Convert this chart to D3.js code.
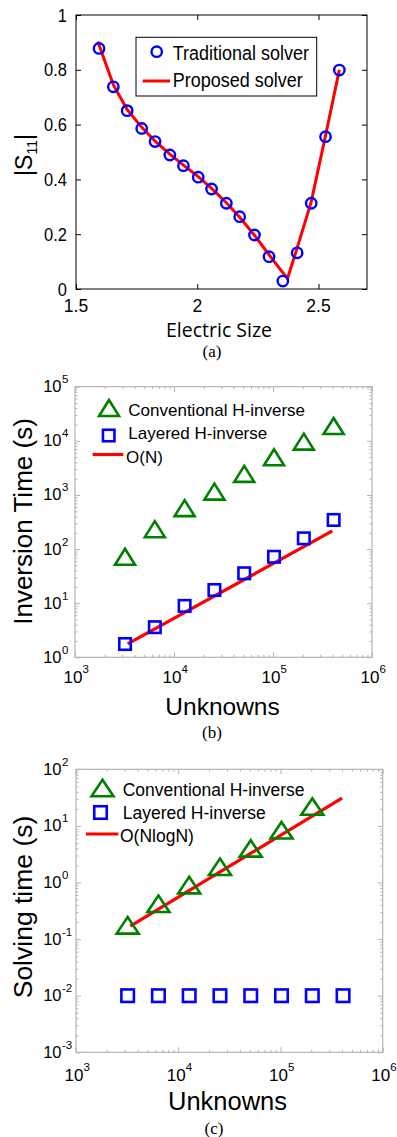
<!DOCTYPE html>
<html>
<head>
<meta charset="utf-8">
<script src="https://d3js.org/d3.v7.min.js"></script>
<style>
  body { margin: 0; background: #fff; }
  text { font-family: "Liberation Sans", Arial, sans-serif; fill: #000; }
  .serif { font-family: "Liberation Serif", "Times New Roman", serif; }
  .calib { font-family: "Open Sans", sans-serif; }
</style>
</head>
<body>
<div class="chart"></div>
<script>
// ---- panel (a): |S11| vs electric size
var sizeTrad = [1.595, 1.654, 1.711, 1.771, 1.826, 1.887, 1.943, 2.004, 2.059, 2.12, 2.175, 2.236, 2.296, 2.353, 2.412, 2.47, 2.529, 2.586];
var s11Trad  = [0.878, 0.738, 0.651, 0.586, 0.538, 0.489, 0.45, 0.408, 0.365, 0.313, 0.264, 0.197, 0.118, 0.029, 0.132, 0.313, 0.556, 0.799];
var sizeProp = [1.59, 1.654, 1.711, 1.771, 1.826, 1.887, 1.943, 2.004, 2.059, 2.12, 2.175, 2.236, 2.296, 2.372, 2.412, 2.47, 2.529, 2.586];
var s11Prop  = [0.903, 0.745, 0.655, 0.59, 0.54, 0.492, 0.452, 0.41, 0.367, 0.315, 0.262, 0.196, 0.125, 0.038, 0.15, 0.318, 0.56, 0.8];
var xTicksA = [1.5, 2, 2.5];
var xTickLabelsA = ["1.5", "2", "2.5"];
var yTicksA = [0, 0.2, 0.4, 0.6, 0.8, 1];
var yTickLabelsA = ["0", "0.2", "0.4", "0.6", "0.8", "1"];

// ---- panels (b) and (c): timing vs unknowns
var unknowns = [3200, 6400, 12800, 25600, 51200, 102400, 204800, 409600];
var invConv = [72, 233, 570, 1150, 2450, 4980, 9660, 18800];
var invLayered = [1.76, 3.6, 8.9, 17.5, 35.7, 72, 158, 345];
var invFitN = [3400, 398000];
var invFitT = [1.77, 216];

var solveN = [3200, 6400, 12800, 25600, 51200, 102400, 204800];
var solveConv = [0.175, 0.42, 0.9, 1.9, 4.0, 8.4, 22];
var solveLayered = [0.01, 0.01, 0.01, 0.01, 0.01, 0.01, 0.01, 0.01];
var solveFitN = [3400, 400000];
var solveFitT = [0.17, 31];

var green = "#008000", blue = "#0000ff", red = "#ff0000";

var svg = d3.select(".chart").append("svg")
  .attr("width", 397)
  .attr("height", 1137);
svg.append("rect").attr("width", 397).attr("height", 1137).attr("fill", "#fff");

// text helper, sy stretches vertically (panel a text is drawn tall)
function txt(g, x, y, s, size, anchor, sy) {
  return g.append("text")
    .attr("transform", "translate(" + x + "," + y + ") scale(1," + (sy || 1) + ")")
    .attr("text-anchor", anchor || "start")
    .style("font-size", size + "px")
    .text(s);
}

function triPath(w, h) {
  return "M0," + (-h / 2) + "L" + (w / 2) + "," + (h / 2) + "L" + (-w / 2) + "," + (h / 2) + "Z";
}

// ================= (a) =================
var xa = d3.scaleLinear().domain([1.5, 2.7]).range([76, 367]);
var ya = d3.scaleLinear().domain([0, 1]).range([289, 15]);
var ga = svg.append("g");

function boxAxes(g, x, y, xt, yt, size, color) {
  var x0 = x.range()[0], x1 = x.range()[1], y0 = y.range()[0], y1 = y.range()[1];
  var axes = [
    [d3.axisBottom(x).tickValues(xt), "translate(0," + y0 + ")"],
    [d3.axisTop(x).tickValues(xt), "translate(0," + y1 + ")"],
    [d3.axisLeft(y).tickValues(yt), "translate(" + x0 + ",0)"],
    [d3.axisRight(y).tickValues(yt), "translate(" + x1 + ",0)"]
  ];
  axes.forEach(function(a) {
    g.append("g").attr("transform", a[1])
      .call(a[0].tickSize(-size).tickFormat(""))
      .call(function(s) { s.select(".domain").remove(); })
      .selectAll("line").attr("stroke", color);
  });
}

boxAxes(ga, xa, ya, xTicksA, yTicksA, 5, "#000");
ga.append("rect").attr("x", 76).attr("y", 15).attr("width", 291).attr("height", 274)
  .attr("fill", "none").attr("stroke", "#000").attr("stroke-width", 1);

xTicksA.forEach(function(v, i) { txt(ga, xa(v), 312, xTickLabelsA[i], 17.5, "middle", 1.1); });
yTicksA.forEach(function(v, i) { txt(ga, 67, ya(v) + 6.5, yTickLabelsA[i], 16.5, "end", 1.12); });

ga.append("path")
  .datum(d3.range(sizeProp.length))
  .attr("fill", "none").attr("stroke", red).attr("stroke-width", 3)
  .attr("d", d3.line().x(function(i) { return xa(sizeProp[i]); }).y(function(i) { return ya(s11Prop[i]); }));

ga.selectAll("circle.trad").data(d3.range(sizeTrad.length)).enter().append("circle")
  .attr("class", "trad")
  .attr("cx", function(i) { return xa(sizeTrad[i]); })
  .attr("cy", function(i) { return ya(s11Trad[i]); })
  .attr("r", 5.2).attr("fill", "none").attr("stroke", blue).attr("stroke-width", 2.4);

// legend (a)
ga.append("rect").attr("x", 136).attr("y", 37.3).attr("width", 180.7).attr("height", 58.7)
  .attr("fill", "#fff").attr("stroke", "#000").attr("stroke-width", 1);
ga.append("circle").attr("cx", 156.7).attr("cy", 51.7).attr("r", 5.2)
  .attr("fill", "none").attr("stroke", blue).attr("stroke-width", 2.4);
txt(ga, 172.7, 60, "Traditional solver", 18, "start", 1.12);
ga.append("line").attr("x1", 142.7).attr("x2", 170).attr("y1", 81).attr("y2", 81)
  .attr("stroke", red).attr("stroke-width", 3);
txt(ga, 172.7, 87.3, "Proposed solver", 18, "start", 1.12);

// axis labels (a)
txt(ga, 219, 336.7, "Electric Size", 19.5, "middle").attr("class", "calib");
var yl = ga.append("text")
  .attr("transform", "translate(32,155) rotate(-90)")
  .attr("text-anchor", "middle")
  .style("font-size", "23px");
yl.append("tspan").text("|S");
yl.append("tspan").attr("dy", 5).style("font-size", "14px").text("11");
yl.append("tspan").attr("dy", -5).text("|");
txt(ga, 212, 357, "(a)", 17, "middle").attr("class", "serif");

// ================= log panels =================
function logPanel(opt) {
  var g = svg.append("g");
  var x = opt.x, y = opt.y;
  var x0 = x.range()[0], x1 = x.range()[1], y0 = y.range()[0], y1 = y.range()[1];
  var xDec = d3.range(3, 7).map(function(p) { return Math.pow(10, p); });
  var yDec = d3.range(opt.yp[0], opt.yp[1] + 1).map(function(p) { return Math.pow(10, p); });
  var minor = function(dec) {
    var out = [];
    dec.slice(0, -1).forEach(function(d) { for (var k = 2; k < 10; k++) out.push(d * k); });
    return out;
  };
  var gray = "#b4b4b4";
  boxAxes(g, x, y, minor(xDec), minor(yDec), 2.5, gray);
  boxAxes(g, x, y, xDec, yDec, 5, gray);
  g.append("rect").attr("x", x0).attr("y", y1).attr("width", x1 - x0).attr("height", y0 - y1)
    .attr("fill", "none").attr("stroke", gray).attr("stroke-width", 1.2);

  // tick labels 10^n
  xDec.forEach(function(d) {
    var p = Math.round(Math.log10(d));
    txt(g, x(d) + 7.5, y0 + opt.xlab, "10", 17, "end");
    txt(g, x(d) + 7.5, y0 + opt.xlab - 10.5, String(p), 11.5, "start");
  });
  yDec.forEach(function(d) {
    var p = Math.round(Math.log10(d));
    txt(g, 61.5, y(d) + 5.5, "10", 16.5, "end");
    txt(g, 62, y(d) - 3.5, String(p), 11.5, "start");
  });

  // fit line
  g.append("path")
    .datum(d3.range(opt.fitN.length))
    .attr("fill", "none").attr("stroke", red).attr("stroke-width", 3.2)
    .attr("d", d3.line().x(function(i) { return x(opt.fitN[i]); }).y(function(i) { return y(opt.fitT[i]); }));

  // conventional: triangles
  g.selectAll("path.tri").data(d3.range(opt.convN.length)).enter().append("path")
    .attr("class", "tri")
    .attr("transform", function(i) { return "translate(" + x(opt.convN[i]) + "," + y(opt.conv[i]) + ")"; })
    .attr("d", triPath(opt.triW, opt.triH))
    .attr("fill", "none").attr("stroke", green).attr("stroke-width", 2.6);

  // layered: squares
  var s = opt.sq;
  g.selectAll("rect.sq").data(d3.range(opt.layN.length)).enter().append("rect")
    .attr("class", "sq")
    .attr("x", function(i) { return x(opt.layN[i]) - s / 2; })
    .attr("y", function(i) { return y(opt.lay[i]) - s / 2; })
    .attr("width", s).attr("height", s)
    .attr("fill", "none").attr("stroke", blue).attr("stroke-width", 2.6);

  // legend
  var L = opt.leg;
  g.append("path").attr("transform", "translate(" + L.tri[0] + "," + L.tri[1] + ")")
    .attr("d", triPath(opt.triW, opt.triH))
    .attr("fill", "none").attr("stroke", green).attr("stroke-width", 2.6);
  txt(g, L.t1[0], L.t1[1], "Conventional H-inverse", L.size);
  g.append("rect").attr("x", L.sq[0] - s / 2).attr("y", L.sq[1] - s / 2)
    .attr("width", s).attr("height", s)
    .attr("fill", "none").attr("stroke", blue).attr("stroke-width", 2.6);
  txt(g, L.t2[0], L.t2[1], "Layered H-inverse", L.size);
  g.append("line").attr("x1", L.line[0]).attr("x2", L.line[1]).attr("y1", L.line[2]).attr("y2", L.line[2])
    .attr("stroke", red).attr("stroke-width", 3.2);
  txt(g, L.t3[0], L.t3[1], opt.fitName, L.size);

  // axis titles + caption
  txt(g, opt.xTitle[0], opt.xTitle[1], "Unknowns", opt.xTitle[2], "middle");
  g.append("text")
    .attr("transform", "translate(" + opt.yTitle[0] + "," + opt.yTitle[1] + ") rotate(-90)")
    .attr("text-anchor", "middle")
    .style("font-size", opt.yTitle[2] + "px")
    .text(opt.yName);
  txt(g, opt.cap[0], opt.cap[1], opt.capText, 17, "middle").attr("class", "serif");
}

logPanel({
  x: d3.scaleLog().domain([1e3, 1e6]).range([75, 372]),
  y: d3.scaleLog().domain([1, 1e5]).range([657.3, 386.7]),
  yp: [0, 5], xlab: 26,
  convN: unknowns, conv: invConv, layN: unknowns, lay: invLayered,
  fitN: invFitN, fitT: invFitT, fitName: "O(N)",
  triW: 20, triH: 16, sq: 11.5,
  leg: { size: 17, tri: [109, 408], t1: [128.3, 415.7], sq: [108.7, 435.5], t2: [128.3, 439],
         line: [92.7, 123.3, 454.5], t3: [126, 463.3] },
  xTitle: [222.5, 715, 24.5], yTitle: [31.5, 521.5, 26], yName: "Inversion Time (s)",
  cap: [212, 738], capText: "(b)"
});

logPanel({
  x: d3.scaleLog().domain([1e3, 1e6]).range([76, 382.7]),
  y: d3.scaleLog().domain([1e-3, 1e2]).range([1052.3, 769.3]),
  yp: [-3, 2], xlab: 29,
  convN: solveN, conv: solveConv, layN: unknowns, lay: solveLayered,
  fitN: solveFitN, fitT: solveFitT, fitName: "O(NlogN)",
  triW: 22, triH: 16.5, sq: 12.5,
  leg: { size: 17.5, tri: [102.5, 788], t1: [122.7, 796], sq: [100.5, 812.5], t2: [122.7, 819.3],
         line: [86, 118.3, 834], t3: [120, 841.7] },
  xTitle: [227.5, 1110, 25.5], yTitle: [31.5, 907, 26.5], yName: "Solving time (s)",
  cap: [214, 1134], capText: "(c)"
});
</script>
</body>
</html>
